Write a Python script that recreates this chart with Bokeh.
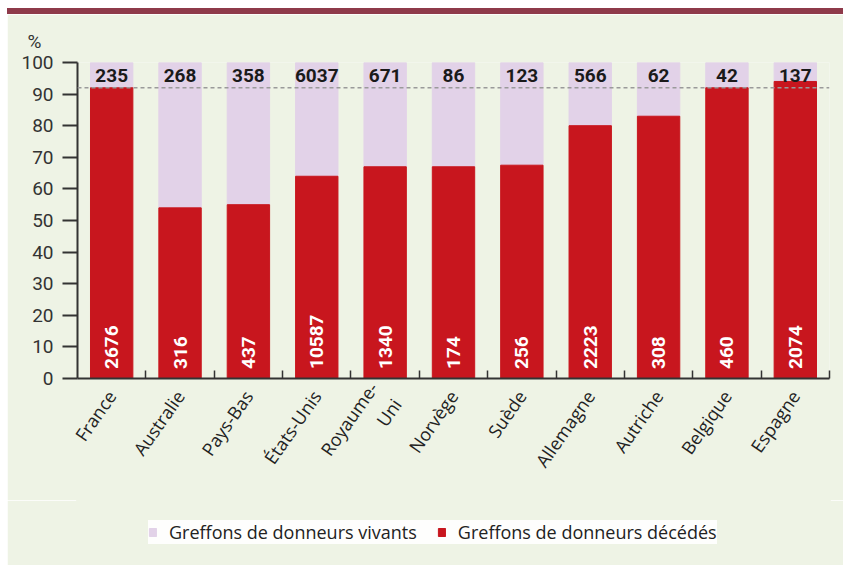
from math import pi
from bokeh.plotting import figure
from bokeh.models import (Range1d, FixedTicker, CustomJSTickFormatter, Span,
                          Legend, LegendItem, Div, ColumnDataSource, Title)
from bokeh.layouts import column
from bokeh.core.properties import value
from bokeh.embed import file_html
from bokeh.resources import INLINE

# ---- data ----
pays = ["France", "Australie", "Pays-Bas", "États-Unis", "Royaume-\nUni", "Norvège",
        "Suède", "Allemagne", "Autriche", "Belgique", "Espagne"]
pct_deces = [92, 54, 55, 64, 67, 67, 67.5, 80, 83, 92, 94]
n_vivants = [235, 268, 358, 6037, 671, 86, 123, 566, 62, 42, 137]
n_deces = [2676, 316, 437, 10587, 1340, 174, 256, 2223, 308, 460, 2074]
y_ticks = [0, 10, 20, 30, 40, 50, 60, 70, 80, 90, 100]
total_pct = 100
ligne_ref = 92
legend_labels = ["Greffons de donneurs vivants", "Greffons de donneurs décédés"]

GREEN = "#EEF3E5"
RED = "#C8161E"
LAV = "#E2D2E8"
DARK = "#333333"
NUMFONT = "Roboto"

n = len(pays)
xs = [i + 0.5 for i in range(n)]
src = ColumnDataSource(dict(
    x=xs, pct=pct_deces, top=[total_pct] * n,
    nv=[str(v) for v in n_vivants], nd=[str(v) for v in n_deces],
))

p = figure(width=836, height=486, output_backend="svg", toolbar_location=None,
           x_range=Range1d(0, n), y_range=Range1d(0, total_pct),
           min_border_left=70, min_border_right=14, min_border_top=48,
           min_border_bottom=122, margin=(0, 0, 0, 7))
p.background_fill_color = GREEN
p.border_fill_color = GREEN
p.outline_line_color = None
p.grid.visible = False

r_viv = p.vbar(x="x", bottom="pct", top="top", width=0.62, source=src,
               fill_color=LAV, line_color=LAV)
r_dec = p.vbar(x="x", bottom=0, top="pct", width=0.62, source=src,
               fill_color=RED, line_color=RED)

p.add_layout(Span(location=ligne_ref, dimension="width", line_color="#9a9a9a",
                  line_dash="4 3", line_width=1.5))

p.text(x="x", y=96, text="nv", source=src, text_align="center",
       text_baseline="middle", text_font=value(NUMFONT), text_font_style="bold",
       text_font_size="19px", text_color="#1a1a1a")
p.text(x="x", y=3, text="nd", source=src, angle=pi / 2, text_align="left",
       text_baseline="middle", text_font=value(NUMFONT), text_font_style="bold",
       text_font_size="19px", text_color="white")

# y axis
ya = p.yaxis[0]
ya.ticker = FixedTicker(ticks=y_ticks)
ya.major_tick_out = 15
ya.major_tick_in = 0
ya.minor_tick_out = 0
ya.minor_tick_in = 0
ya.axis_line_width = 2
ya.axis_line_color = DARK
ya.major_tick_line_width = 2
ya.major_tick_line_color = DARK
ya.major_label_text_font = NUMFONT
ya.major_label_text_font_size = "19px"
ya.major_label_text_color = DARK
ya.major_label_standoff = 9

# x axis
xa = p.xaxis[0]
xa.ticker = FixedTicker(ticks=xs, minor_ticks=list(range(1, n + 1)))
xa.formatter = CustomJSTickFormatter(args=dict(names=pays),
                                     code="return names[Math.floor(tick)];")
xa.major_tick_in = 0
xa.major_tick_out = 0
xa.minor_tick_in = 8
xa.minor_tick_out = 0
xa.minor_tick_line_width = 1.5
xa.minor_tick_line_color = DARK
xa.axis_line_width = 2
xa.axis_line_color = DARK
xa.major_label_orientation = 55 * pi / 180
xa.major_label_text_font = "Open Sans"
xa.major_label_text_font_size = "18px"
xa.major_label_text_color = "#222222"
xa.major_label_standoff = 14

p.add_layout(Title(text="%", align="left", offset=-50, standoff=20,
                   text_font=NUMFONT, text_font_size="19px",
                   text_font_style="normal", text_color=DARK), "above")

# ---- legend strip (same data, kept below the visible y range) ----
lg = figure(width=836, height=65, output_backend="svg", toolbar_location=None,
            x_axis_type=None, y_axis_type=None, x_range=Range1d(0, n),
            y_range=Range1d(10 * total_pct, 11 * total_pct),
            min_border=0, margin=(0, 0, 0, 7))
lg.background_fill_color = GREEN
lg.border_fill_color = GREEN
lg.outline_line_color = GREEN
lg.outline_line_width = 3
lg.grid.visible = False
d_viv = lg.vbar(x="x", bottom="pct", top="top", width=0.62, source=src,
                fill_color=LAV, line_color=LAV)
d_dec = lg.vbar(x="x", bottom=0, top="pct", width=0.62, source=src,
                fill_color=RED, line_color=RED)
legend = Legend(items=[LegendItem(label=legend_labels[0], renderers=[d_viv]),
                       LegendItem(label=legend_labels[1], renderers=[d_dec])],
                location=(71, 21), orientation="horizontal",
                background_fill_color="white", background_fill_alpha=0.9,
                border_line_color=None, glyph_width=9, glyph_height=10,
                label_standoff=12, spacing=20, padding=10, margin=0,
                label_text_font="Open Sans", label_text_font_size="18px",
                label_text_color="#222222")
lg.add_layout(legend, "center")

bar = Div(text="", width=836, height=6, margin=(8, 0, 0, 7),
          styles={"background-color": "#8E3A4A"})
layout = column(bar, p, lg, spacing=0, margin=0)

open("out.html", "w").write(file_html(layout, INLINE))
